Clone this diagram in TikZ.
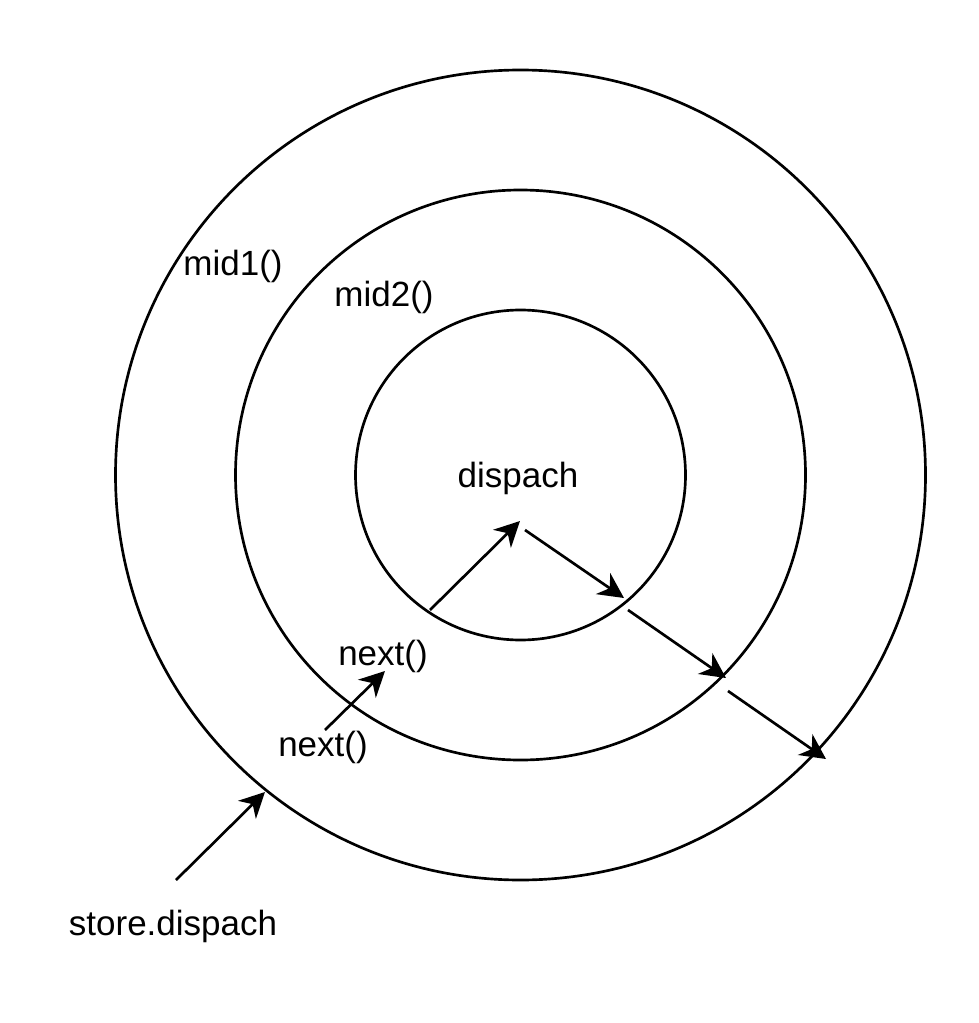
\documentclass[tikz,border=0pt]{standalone}
\usepackage{fontspec}
\setmainfont{Liberation Sans}
\usetikzlibrary{arrows.meta}
\begin{document}
\begin{tikzpicture}[x=0.75pt,y=-0.75pt,
  ring/.style={draw=black,line width=2pt,circle,inner sep=0pt,outer sep=0pt},
  lbl/.style={anchor=base,inner sep=0pt,font=\fontsize{26.25}{30}\selectfont},
  flow/.style={draw=black,line width=2pt,-{Stealth[length=19pt,width=19pt,inset=6pt]}}]
\useasboundingbox (0,0) rectangle (978,1023);
\fill[white] (0,0) rectangle (978,1023);
% rings
\node[ring,minimum size=607.5pt] (outer) at (520.5,475) {};
\node[ring,minimum size=427.5pt] (middle) at (520.5,475) {};
\node[ring,minimum size=247.5pt] (inner) at (520.5,475) {};
% labels
\node[lbl] (mid1) at (233,276) {mid1()};
\node[lbl] (mid2) at (384,306) {mid2()};
\node[lbl] (disp) at (518,487) {dispach};
\node[lbl] (nextA) at (383,665) {next()};
\node[lbl] (nextB) at (323,756) {next()};
\node[lbl] (store) at (173,935) {store.dispach};
% arrow end points
\coordinate (s1) at (176,880);  \coordinate (t1) at (265,792);
\coordinate (s2) at (325,730);  \coordinate (t2) at (385,671);
\coordinate (s3) at (430,610);  \coordinate (t3) at (520,521);
\coordinate (s4) at (525,530);  \coordinate (t4) at (624,598);
\coordinate (s5) at (628,610);  \coordinate (t5) at (726,678);
\coordinate (s6) at (728,691);  \coordinate (t6) at (826,759);
\draw[flow] (s1) -- (t1);
\draw[flow] (s2) -- (t2);
\draw[flow] (s3) -- (t3);
\draw[flow] (s4) -- (t4);
\draw[flow] (s5) -- (t5);
\draw[flow] (s6) -- (t6);
\end{tikzpicture}
\end{document}
